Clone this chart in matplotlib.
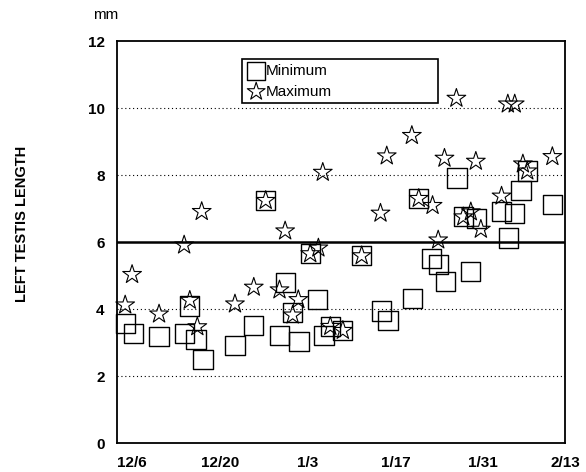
import matplotlib.pyplot as plt
import numpy as np

plt.rcParams['font.family'] = ['Liberation Sans', 'DejaVu Sans']

# days after 12/6
min_day = [-1.1, 0.2, 4.3, 8.3, 9.2, 10.2, 11.3, 16.4, 19.4, 21.3, 23.5, 24.5,
           25.6, 26.6, 28.4, 29.5, 30.6, 31.6, 33.6, 36.6, 39.8, 40.8, 44.7,
           45.7, 47.8, 48.9, 50.0, 51.8, 52.8, 54.0, 54.9, 58.9, 60.0, 61.0,
           62.0, 63.0, 67.0]
min_len = [3.56, 3.26, 3.18, 3.26, 4.09, 3.09, 2.50, 2.91, 3.50, 7.24, 3.20, 4.78,
           3.90, 3.03, 5.65, 4.29, 3.20, 3.48, 3.35, 5.59, 3.94, 3.65, 4.32,
           7.30, 5.52, 5.32, 4.82, 7.91, 6.75, 5.13, 6.70, 6.91, 6.12, 6.84,
           7.53, 8.12, 7.13]

max_day = [-1.1, 0.0, 4.3, 8.3, 9.2, 10.4, 11.1, 16.4, 19.4, 21.3, 23.5, 24.4,
           25.6, 26.5, 28.4, 29.7, 30.4, 31.6, 33.6, 36.6, 39.6, 40.6, 44.6,
           45.7, 47.9, 48.8, 49.8, 51.7, 52.8, 54.0, 54.8, 55.6, 58.9, 59.9,
           61.0, 62.3, 63.0, 67.0]
max_len = [4.12, 5.03, 3.85, 5.91, 4.26, 3.47, 6.91, 4.15, 4.65, 7.24, 4.57, 6.33,
           3.82, 4.28, 5.65, 5.82, 8.08, 3.48, 3.36, 5.59, 6.86, 8.57, 9.18,
           7.30, 7.09, 6.06, 8.50, 10.29, 6.75, 6.90, 8.41, 6.38, 7.37, 10.12,
           10.12, 8.33, 8.12, 8.55]

tick_days = [0, 14, 28, 42, 56, 69]
tick_labels = ['12/6', '12/20', '1/3', '1/17', '1/31', '2/13']

fig = plt.figure(figsize=(5.86, 4.72), dpi=100)
ax = fig.add_axes([0.1997, 0.0614, 0.7643, 0.8516])

for g in [2, 4, 8, 10]:
    ax.axhline(g, color='black', linestyle=(0, (1, 2.5)), linewidth=0.8, zorder=1)
ax.axhline(6, color='black', linewidth=1.8, zorder=2)

ax.scatter(min_day, min_len, marker='s', s=190, facecolors='none',
           edgecolors='black', linewidths=1.0, label='Minimum', zorder=3, clip_on=False)
ax.scatter(max_day, max_len, marker='*', s=200, facecolors='none',
           edgecolors='black', linewidths=0.8, label='Maximum', zorder=4, clip_on=False)

ax.set_xlim(-2.4, 69)
ax.set_ylim(0, 12)
ax.set_yticks([0, 2, 4, 6, 8, 10, 12])
ax.set_xticks(tick_days)
ax.set_xticklabels(tick_labels)
ax.tick_params(axis='both', length=0, labelsize=11)
ax.tick_params(axis='y', pad=9)
ax.tick_params(axis='x', pad=9)
for lab in ax.get_xticklabels() + ax.get_yticklabels():
    lab.set_fontweight('bold')
for sp in ax.spines.values():
    sp.set_linewidth(1.3)

leg = ax.legend(loc='upper left', bbox_to_anchor=(0.28, 0.955, 0.437, 0.0),
                mode='expand', borderaxespad=0, fontsize=11, handletextpad=0.0,
                handlelength=1.2, borderpad=0.3, labelspacing=0.45,
                markerscale=0.95, fancybox=False, framealpha=1, edgecolor='black')
leg.get_frame().set_linewidth(1.2)

fig.text(0.0375, 0.525, 'LEFT TESTIS LENGTH', rotation=90, ha='center', va='center',
         fontsize=10.5, fontweight='bold')
fig.text(0.181, 0.968, 'mm', ha='center', va='center', fontsize=11)

fig.savefig('out.png', dpi=100)
